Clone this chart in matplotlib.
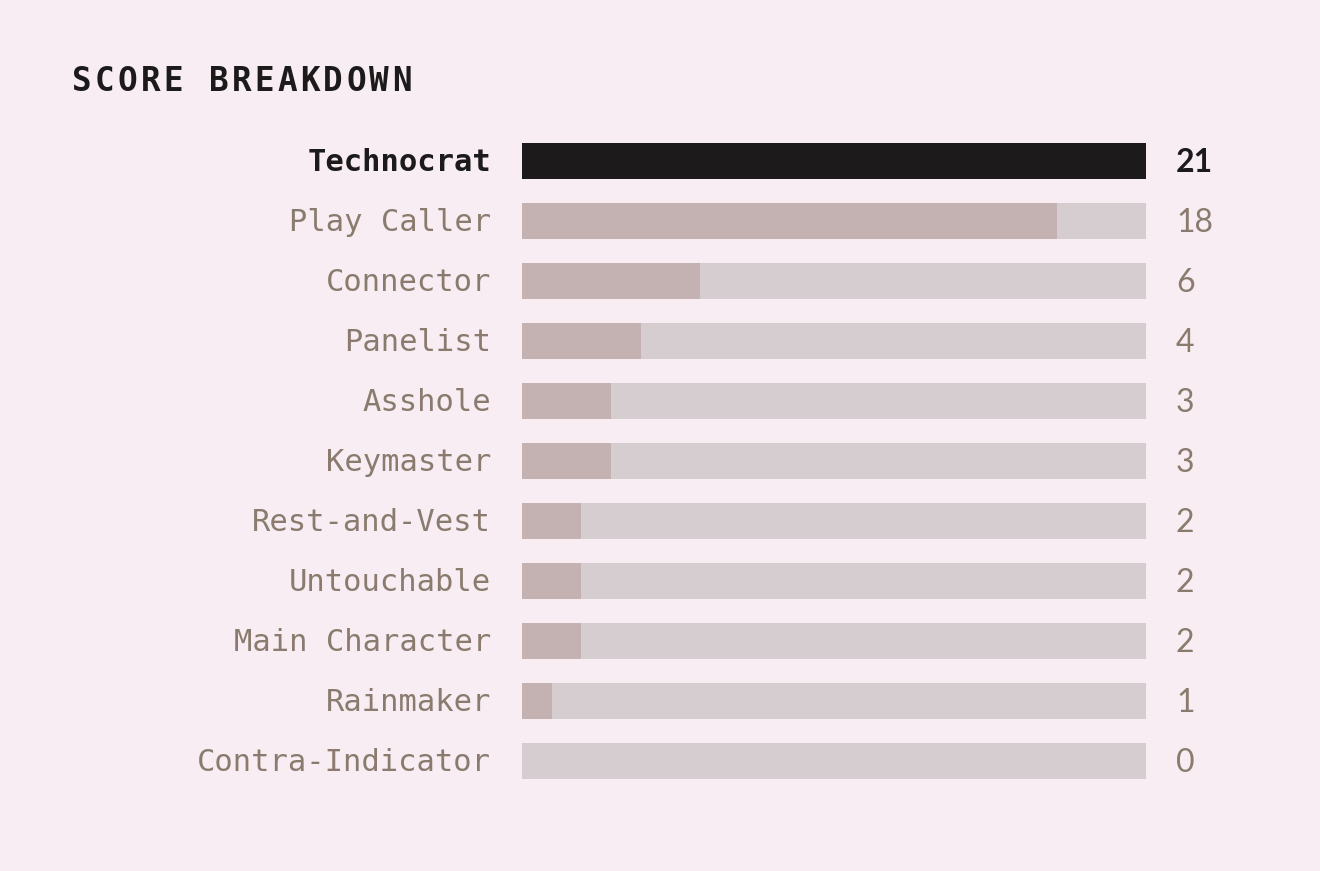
import matplotlib
matplotlib.use("Agg")
import matplotlib.pyplot as plt
from matplotlib import transforms

# data
categories = ["Technocrat", "Play Caller", "Connector", "Panelist", "Asshole",
              "Keymaster", "Rest-and-Vest", "Untouchable", "Main Character",
              "Rainmaker", "Contra-Indicator"]
scores = [21, 18, 6, 4, 3, 3, 2, 2, 2, 1, 0]
max_score = 21
title = "SCORE BREAKDOWN"

# colours
bg = "#f7edf2"
track = "#d5cdd0"
fill = "#c4b1b2"
dark = "#1c1a1b"
muted = "#8a7b6e"

fig = plt.figure(figsize=(13.2, 8.71), dpi=100, facecolor=bg)
ax = fig.add_axes([522 / 1320, 1 - 791 / 871, 624 / 1320, 660 / 871])
ax.set_facecolor(bg)

ys = list(range(len(categories)))
ax.barh(ys, [max_score] * len(ys), height=0.6, color=track, zorder=1)
colors = [dark if i == 0 else fill for i in ys]
ax.barh(ys, scores, height=0.6, color=colors, zorder=2)

ax.set_xlim(0, max_score)
ax.set_ylim(len(categories) - 0.5, -0.5)
ax.axis("off")

trans = transforms.blended_transform_factory(ax.transAxes, ax.transData)
for i, (cat, val) in enumerate(zip(categories, scores)):
    top = i == 0
    ax.text(-0.0497, i + 0.17, cat, transform=trans, ha="right", va="baseline",
            fontsize=22, family="DejaVu Sans Mono",
            fontweight="bold" if top else "normal",
            color=dark if top else muted)
    ax.text(1.048, i + 0.18, str(val), transform=trans, ha="left", va="baseline",
            fontsize=23, family="Lato",
            fontweight="bold" if top else "normal",
            color=dark if top else muted)

# title with some letter spacing
x0, y0 = 72, 871 - 91
step = 22.85
for k, ch in enumerate(title):
    fig.text((x0 + k * step) / 1320, y0 / 871, ch, ha="left", va="baseline",
             fontsize=23.5, family="DejaVu Sans Mono", fontweight="bold",
             color=dark)

fig.savefig("out.png", dpi=100, facecolor=bg)
